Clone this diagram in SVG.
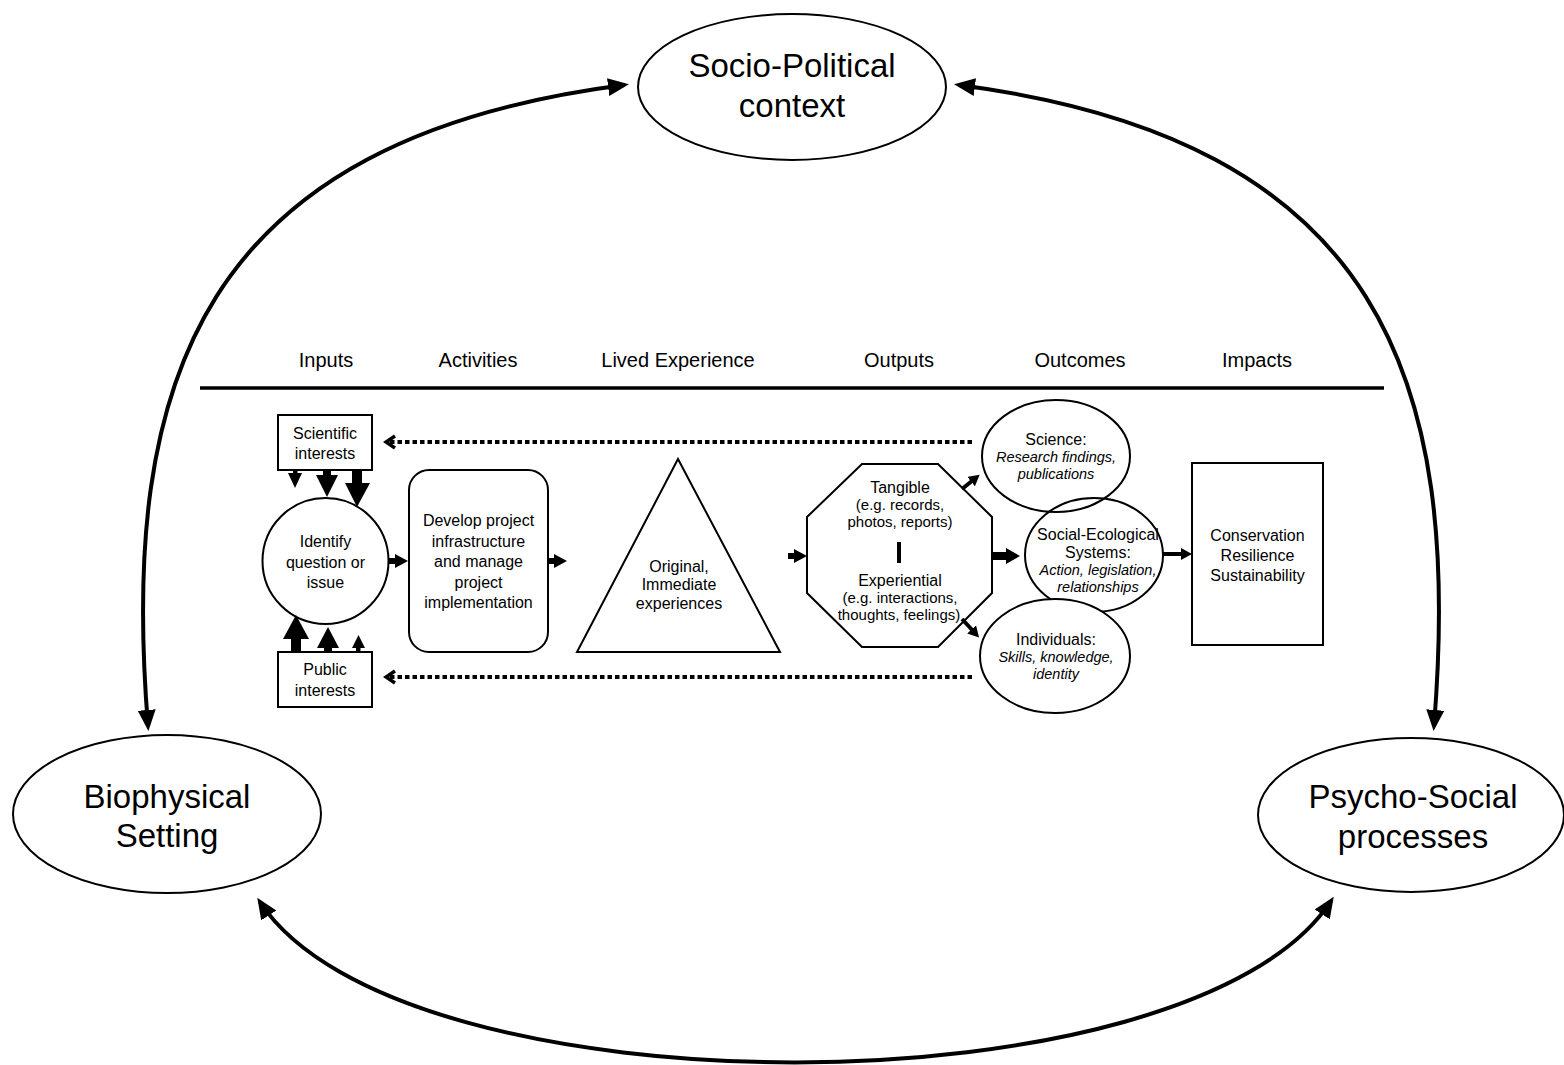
<svg xmlns="http://www.w3.org/2000/svg" width="1564" height="1065" viewBox="0 0 1564 1065">
  <style>
    text { font-family: "Liberation Sans", Arial, sans-serif; fill: #000; text-anchor: middle; }
    .big { font-size: 33px; }
    .hdr { font-size: 20px; }
    .t16 { font-size: 16px; }
    .t15 { font-size: 15px; }
    .it { font-size: 14.5px; font-style: italic; }
    .shape { fill: #fff; stroke: #000; stroke-width: 2; }
    .loop { fill: none; stroke: #000; stroke-width: 4; marker-start: url(#bigHead); marker-end: url(#bigHead); }
    .flow { stroke: #000; fill: none; }
    .dots { stroke: #000; stroke-width: 4; stroke-dasharray: 4.5 3; fill: none; marker-end: url(#chevron); }
  </style>
  <defs>
    <marker id="bigHead" markerUnits="userSpaceOnUse" markerWidth="22" markerHeight="20" viewBox="0 0 22 20" refX="16" refY="9" orient="auto-start-reverse">
      <path d="M0,0 L21,9 L0,18 z" fill="#000"/>
    </marker>
    <marker id="smHead" markerUnits="userSpaceOnUse" markerWidth="14" markerHeight="14" viewBox="0 0 14 14" refX="6" refY="7" orient="auto">
      <path d="M0,0 L13,7 L0,14 z" fill="#000"/>
    </marker>
    <marker id="xsHead" markerUnits="userSpaceOnUse" markerWidth="12" markerHeight="12" viewBox="0 0 12 12" refX="5" refY="6" orient="auto">
      <path d="M0,0 L11,6 L0,12 z" fill="#000"/>
    </marker>
    <marker id="wideHead" markerUnits="userSpaceOnUse" markerWidth="16" markerHeight="16" viewBox="0 0 16 16" refX="7" refY="8" orient="auto">
      <path d="M0,0 L14,8 L0,16 z" fill="#000"/>
    </marker>
    <marker id="chevron" markerUnits="userSpaceOnUse" markerWidth="14" markerHeight="16" viewBox="0 0 14 16" refX="10" refY="8" orient="auto">
      <path d="M2,2 L11,8 L2,14" fill="none" stroke="#000" stroke-width="3.5"/>
    </marker>
  </defs>

  <rect width="1564" height="1065" fill="#fff"/>

  <!-- header row of the logic model -->
  <g id="header">
    <text class="hdr" x="326" y="367">Inputs</text>
    <text class="hdr" x="478" y="367">Activities</text>
    <text class="hdr" x="678" y="367">Lived Experience</text>
    <text class="hdr" x="899" y="367">Outputs</text>
    <text class="hdr" x="1080" y="367">Outcomes</text>
    <text class="hdr" x="1257" y="367">Impacts</text>
    <line x1="200" y1="388" x2="1384" y2="388" stroke="#000" stroke-width="3.5"/>
  </g>

  <!-- context nodes -->
  <g id="socio-political">
    <ellipse class="shape" cx="792" cy="87" rx="154" ry="73"/>
    <text class="big" x="792" y="77">Socio-Political</text>
    <text class="big" x="792" y="117">context</text>
  </g>
  <g id="biophysical">
    <ellipse class="shape" cx="167" cy="814" rx="154" ry="79"/>
    <text class="big" x="167" y="808">Biophysical</text>
    <text class="big" x="167" y="847">Setting</text>
  </g>
  <g id="psycho-social">
    <ellipse class="shape" cx="1411" cy="815" rx="153" ry="77"/>
    <text class="big" x="1413" y="808">Psycho-Social</text>
    <text class="big" x="1413" y="848">processes</text>
  </g>

  <!-- inputs -->
  <g id="scientific-interests">
    <rect class="shape" x="278" y="415" width="94" height="55"/>
    <text class="t16" x="325" y="439">Scientific</text>
    <text class="t16" x="325" y="459">interests</text>
  </g>
  <g id="public-interests">
    <rect class="shape" x="278" y="652" width="94" height="55"/>
    <text class="t16" x="325" y="675">Public</text>
    <text class="t16" x="325" y="696">interests</text>
  </g>
  <g id="identify">
    <circle class="shape" cx="325.5" cy="561" r="63"/>
    <text class="t16" x="325.5" y="547">Identify</text>
    <text class="t16" x="325.5" y="567.5">question or</text>
    <text class="t16" x="325.5" y="588">issue</text>
  </g>

  <!-- activities -->
  <g id="develop">
    <rect class="shape" x="409" y="470" width="139" height="182" rx="20"/>
    <text class="t16" x="478.5" y="526">Develop project</text>
    <text class="t16" x="478.5" y="547">infrastructure</text>
    <text class="t16" x="478.5" y="567">and manage</text>
    <text class="t16" x="478.5" y="588">project</text>
    <text class="t16" x="478.5" y="608">implementation</text>
  </g>

  <!-- lived experience -->
  <g id="experience">
    <polygon class="shape" points="678,459 780,652 577,652"/>
    <text class="t16" x="679" y="571.5">Original,</text>
    <text class="t16" x="679" y="590">Immediate</text>
    <text class="t16" x="679" y="608.5">experiences</text>
  </g>

  <!-- outputs -->
  <g id="outputs">
    <polygon class="shape" points="862,464 938,464 992,517 992,593 938,647 862,647 807,593 807,517"/>
    <text class="t16" x="900" y="493">Tangible</text>
    <text class="t15" x="900" y="510">(e.g. records,</text>
    <text class="t15" x="900" y="527">photos, reports)</text>
    <rect x="897" y="542" width="4" height="21" fill="#000"/>
    <text class="t16" x="900" y="586">Experiential</text>
    <text class="t15" x="900" y="603">(e.g. interactions,</text>
    <text class="t15" x="899" y="619.5">thoughts, feelings)</text>
  </g>

  <!-- outcomes -->
  <g id="science">
    <ellipse class="shape" cx="1056" cy="456" rx="74" ry="56"/>
    <text class="t16" x="1056" y="445">Science:</text>
    <text class="it" x="1056" y="462">Research findings,</text>
    <text class="it" x="1056" y="478.5">publications</text>
  </g>
  <g id="social-ecological">
    <ellipse class="shape" cx="1094" cy="555" rx="69" ry="57" fill-opacity="0"/>
    <text class="t16" x="1098" y="540">Social-Ecological</text>
    <text class="t16" x="1098" y="557.5">Systems:</text>
    <text class="it" x="1098" y="575">Action, legislation,</text>
    <text class="it" x="1098" y="592">relationships</text>
  </g>
  <g id="individuals">
    <ellipse class="shape" cx="1055" cy="656" rx="75" ry="57" fill="none"/>
    <text class="t16" x="1056" y="645">Individuals:</text>
    <text class="it" x="1056" y="662">Skills, knowledge,</text>
    <text class="it" x="1056" y="678.5">identity</text>
  </g>

  <!-- impacts -->
  <g id="impacts">
    <rect class="shape" x="1192" y="463" width="131" height="182"/>
    <text class="t16" x="1257.5" y="541">Conservation</text>
    <text class="t16" x="1257.5" y="561">Resilience</text>
    <text class="t16" x="1257.5" y="581">Sustainability</text>
  </g>

  <!-- connectors -->
  <g id="connectors">
    <!-- feedback loops between the three contexts -->
    <path class="loop" d="M148,726 C120,380 200,140 624,85"/>
    <path class="loop" d="M1434,726 C1462,380 1382,140 959,85"/>
    <path class="loop" d="M260,902 C400,1116 1190,1116 1331,901"/>

    <!-- inputs feeding the question, weighted by strength -->
    <g fill="#000">
      <rect x="293" y="470" width="4.5" height="4"/>
      <polygon points="288,473 302,473 295,488"/>
      <rect x="323" y="470" width="8" height="6"/>
      <polygon points="316,475 338,475 327,497"/>
      <rect x="352" y="470" width="10" height="14"/>
      <polygon points="345,483 370,483 357,507"/>

      <rect x="291" y="637" width="10" height="15"/>
      <polygon points="283,639 309,639 296,615"/>
      <rect x="324" y="647" width="8" height="5"/>
      <polygon points="317,648 339,648 328,627"/>
      <rect x="356" y="647" width="4.5" height="5"/>
      <polygon points="352,648 365,648 358.5,635"/>
    </g>

    <!-- main flow -->
    <line class="flow" x1="389" y1="561" x2="401" y2="561" stroke-width="6" marker-end="url(#smHead)"/>
    <line class="flow" x1="548" y1="561" x2="560" y2="561" stroke-width="6" marker-end="url(#smHead)"/>
    <line class="flow" x1="788" y1="556" x2="800" y2="556" stroke-width="6" marker-end="url(#smHead)"/>
    <line class="flow" x1="992" y1="556" x2="1013" y2="556" stroke-width="8" marker-end="url(#wideHead)"/>
    <line class="flow" x1="1163" y1="554" x2="1186" y2="554" stroke-width="4" marker-end="url(#xsHead)"/>
    <line class="flow" x1="962" y1="489" x2="975" y2="478.5" stroke-width="4" marker-end="url(#xsHead)"/>
    <line class="flow" x1="962" y1="619" x2="975" y2="633" stroke-width="4" marker-end="url(#xsHead)"/>

    <!-- feedback from outcomes to inputs -->
    <line class="dots" x1="972" y1="442" x2="387" y2="442"/>
    <line class="dots" x1="972" y1="677" x2="387" y2="677"/>
  </g>
</svg>
